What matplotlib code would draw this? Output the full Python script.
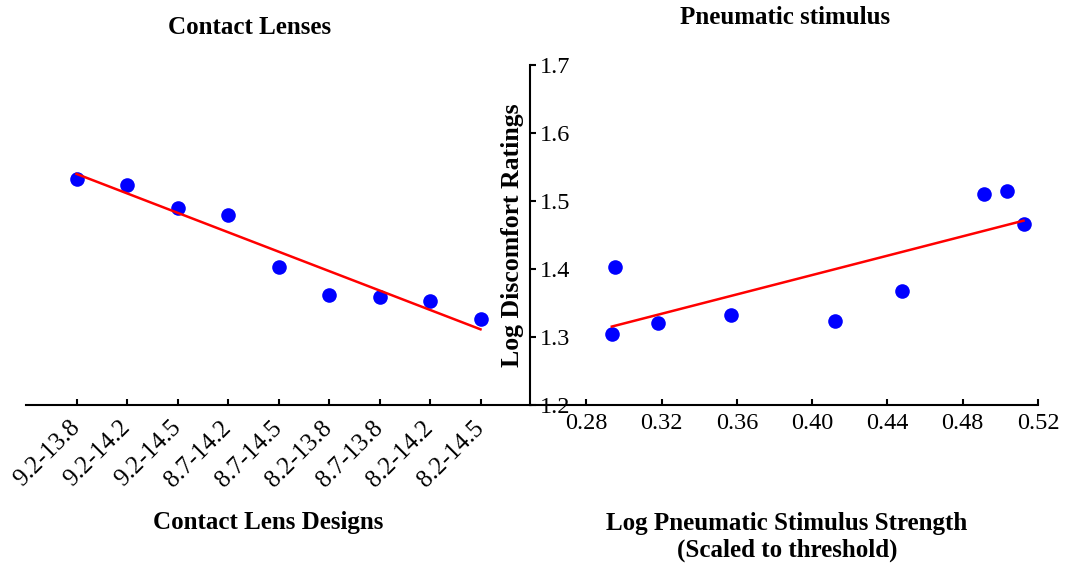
import matplotlib.pyplot as plt
import numpy as np

# data
designs = ["9.2-13.8", "9.2-14.2", "9.2-14.5", "8.7-14.2", "8.7-14.5",
           "8.2-13.8", "8.7-13.8", "8.2-14.2", "8.2-14.5"]
lens_ratings = [1.533, 1.523, 1.490, 1.480, 1.403, 1.362, 1.359, 1.353, 1.327]

stim_strength = [0.2935, 0.2950, 0.3179, 0.3566, 0.4122, 0.4479, 0.4914, 0.5037, 0.5123]
stim_ratings = [1.305, 1.403, 1.321, 1.332, 1.323, 1.367, 1.511, 1.514, 1.466]

stim_ticks = [0.28, 0.32, 0.36, 0.40, 0.44, 0.48, 0.52]
rating_ticks = [1.2, 1.3, 1.4, 1.5, 1.6, 1.7]

plt.rcParams["font.family"] = ["Liberation Serif", "DejaVu Serif"]

fig = plt.figure(figsize=(10.75, 5.68), dpi=100)

H = 568.0
W = 1075.0
bottom = 1 - 405 / H
height = (405 - 65) / H

# left panel: contact lenses
ax1 = fig.add_axes([26 / W, bottom, (531 - 26) / W, height])
xs = np.arange(len(designs))
ax1.plot(xs, lens_ratings, "o", color="#0000ff", ms=10.5, mec="none", zorder=2)
k, b = np.polyfit(xs, lens_ratings, 1)
ax1.plot([xs[0], xs[-1]], [k * xs[0] + b, k * xs[-1] + b], color="#ff0000", lw=1.8, zorder=3)
ax1.set_xlim(-1, 9)
ax1.set_ylim(1.2, 1.7)
ax1.set_xticks(xs)
ax1.set_xticklabels(designs, rotation=45, ha="right", va="center",
                    rotation_mode="anchor", fontsize=18)
ax1.tick_params(axis="x", direction="in", length=4, width=1.5, pad=14)
ax1.set_yticks([])
for s in ["left", "top", "right"]:
    ax1.spines[s].set_visible(False)
ax1.spines["bottom"].set_linewidth(1.5)
ax1.patch.set_alpha(0)

# right panel: pneumatic stimulus
ax2 = fig.add_axes([530 / W, bottom, (1038 - 530) / W, height])
ax2.plot(stim_strength, stim_ratings, "o", color="#0000ff", ms=10.5, mec="none", zorder=2)
k2, b2 = np.polyfit(stim_strength, stim_ratings, 1)
x0, x1 = min(stim_strength), max(stim_strength)
ax2.plot([x0, x1], [k2 * x0 + b2, k2 * x1 + b2], color="#ff0000", lw=1.8, zorder=3)
ax2.set_xlim(0.25, 0.52)
ax2.set_ylim(1.2, 1.7)
ax2.set_xticks(stim_ticks)
ax2.set_xticklabels([f"{t:.2f}" for t in stim_ticks], fontsize=17.5)
ax2.set_yticks(rating_ticks)
ax2.set_yticklabels([f"{t:.1f}" for t in rating_ticks], fontsize=17.5)
ax2.tick_params(axis="x", direction="in", length=4, width=1.5, pad=6)
ax2.tick_params(axis="y", direction="in", length=4, width=1.5, pad=-7)
for lab in ax2.get_yticklabels():
    lab.set_horizontalalignment("left")
for s in ["top", "right"]:
    ax2.spines[s].set_visible(False)
ax2.spines["left"].set_linewidth(1.5)
ax2.spines["bottom"].set_linewidth(1.5)
ax2.patch.set_alpha(0)

# titles and axis labels
fig.text(250 / W, 1 - 27 / H, "Contact Lenses", ha="center", va="center",
         fontsize=18, fontweight="bold")
fig.text(785 / W, 1 - 18 / H, "Pneumatic stimulus", ha="center", va="center",
         fontsize=18, fontweight="bold")
fig.text(268 / W, 1 - 522 / H, "Contact Lens Designs", ha="center", va="center",
         fontsize=18, fontweight="bold")
fig.text(787 / W, 1 - 537 / H, "Log Pneumatic Stimulus Strength\n(Scaled to threshold)",
         ha="center", va="center", fontsize=18, fontweight="bold", linespacing=1.15)
fig.text(512 / W, 1 - 235 / H, "Log Discomfort Ratings", ha="center", va="center",
         rotation=90, fontsize=18.5, fontweight="bold")

fig.savefig("out.png", dpi=100)
